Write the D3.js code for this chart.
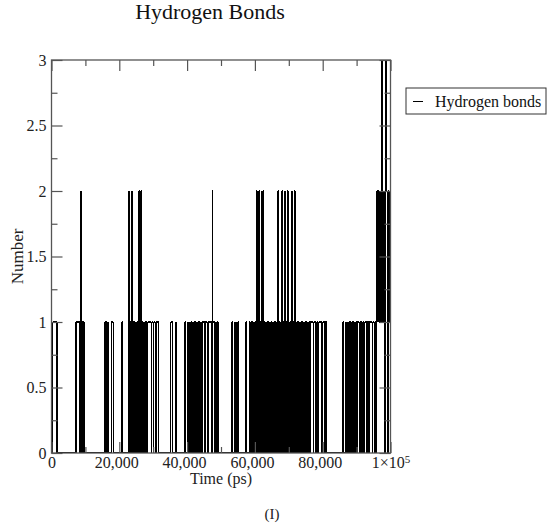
<!DOCTYPE html>
<html><head><meta charset="utf-8">
<script src="https://cdn.jsdelivr.net/npm/d3@7"></script>
<style>body{margin:0;background:#fff}</style>
</head><body>
<svg id="c" width="550" height="527"></svg>
<script>
const chartTitle = "Hydrogen Bonds";
const seriesName = "Hydrogen bonds";
const xAxisTitle = "Time (ps)";
const yAxisTitle = "Number";
const caption = "(I)";
const xTickValues = [0, 20000, 40000, 60000, 80000, 100000];
const xTickLabels = ["0", "20,000", "40,000", "60,000", "80,000", "1×10^5"];
const xMinorTicks = [10000, 30000, 50000, 70000, 90000];
const yTickValues = [0, 0.5, 1, 1.5, 2, 2.5, 3];
const yTickLabels = ["0", "0.5", "1", "1.5", "2", "2.5", "3"];
const yMinorTicks = [0.25, 0.75, 1.25, 1.75, 2.25, 2.75];
const sampleStep = 200;      // ps between samples
const chunkSpan = 10000;     // ps per chunk
// number of hydrogen bonds, one digit per 200 ps sample, one string per 10,000 ps
const hbChunks = [
  "10111111" + "0000000000" + "0000000000" + "00000000" + "111111" + "020" + "111" + "00",
  "0000000000" + "0000000000" + "000000000" + "101010" + "000" + "111" + "000000000",
  "0000" + "10" + "0000000" + "1" + "20102" + "0101010101" + "20120" + "101010101" + "1111011",
  "011011110" + "0000000000" + "0000000" + "111000010" + "000000000000" + "100",
  "0100" + "1010101010101010101" + "111011101111102111010110000",
  "0000000000" + "000000" + "10001001010" + "000000000" + "010" + "000" + "10101010",
  "1020102010" + "2020101010" + "1010101010" + "1010201010" + "2010201020",
  "1010201020" + "1010101010" + "1010101010" + "10" + "111101110110111110",
  "1110110" + "0000000000" + "0000000000" + "000" + "1000100" + "1010101010101",
  "0111011101" + "1011101101" + "1110110101" + "2121212321" + "2103210212"
];

const data = [];
hbChunks.forEach((s, c) => {
  for (let j = 0; j < s.length; j++) data.push({t: c * chunkSpan + j * sampleStep, v: +s[j]});
});

const FONT = "'Liberation Serif','Times New Roman',serif";
const svg = d3.select("#c");
const L = 51.5, R = 390.5, T = 60, B = 453;
const x = d3.scaleLinear().domain([0, 100000]).range([L, R]);
const y = d3.scaleLinear().domain([0, 3]).range([B, T]);

svg.append("defs").append("clipPath").attr("id", "clip")
  .append("rect").attr("x", L).attr("y", T - 1).attr("width", R - L).attr("height", B - T + 1);

// data line: step trace built from independent, consistently oriented segments
const p = d3.path();
for (let i = 1; i < data.length; i++) {
  const a = data[i - 1], b = data[i];
  p.moveTo(x(a.t), y(a.v)); p.lineTo(x(b.t), y(a.v));           // horizontal hold
  if (a.v !== b.v) {
    const lo = Math.min(a.v, b.v), hi = Math.max(a.v, b.v);
    p.moveTo(x(b.t), y(lo)); p.lineTo(x(b.t), y(hi));           // vertical jump
  }
}
svg.append("path")
  .attr("clip-path", "url(#clip)")
  .attr("fill", "none").attr("stroke", "#000").attr("stroke-width", 1.2)
  .attr("stroke-linecap", "butt")
  .attr("shape-rendering", "crispEdges")
  .attr("d", p.toString());

const axisColor = "#555";
function styleAxis(g) {
  g.select(".domain").remove();
  g.selectAll(".tick line").attr("stroke", axisColor).attr("stroke-width", 1.2);
  g.selectAll("text").attr("font-family", FONT).attr("font-size", 16).attr("fill", "#222");
}
const majLen = 11, minLen = 6;

// bottom
const gb = svg.append("g").attr("transform", `translate(0,${B})`)
  .call(d3.axisBottom(x).tickValues(xTickValues).tickSize(-majLen).tickPadding(4)
    .tickFormat((d, i) => xTickLabels[i]));
styleAxis(gb);
gb.selectAll(".tick text").each(function(d, i) {
  const lab = xTickLabels[i];
  const t = d3.select(this);
  if (i > 0 && i < xTickLabels.length - 1) t.attr("dx", -3);
  if (lab.includes("^")) {
    const [base, exp] = lab.split("^");
    t.text(null);
    t.append("tspan").text(base);
    t.append("tspan").attr("dy", "-0.45em").attr("font-size", 11).text(exp);
  }
});
svg.append("g").attr("transform", `translate(0,${B})`)
  .call(d3.axisBottom(x).tickValues(xMinorTicks).tickSize(-minLen).tickFormat(""))
  .call(styleAxis);
// top
svg.append("g").attr("transform", `translate(0,${T})`)
  .call(d3.axisTop(x).tickValues(xTickValues).tickSize(-majLen).tickFormat("")).call(styleAxis);
svg.append("g").attr("transform", `translate(0,${T})`)
  .call(d3.axisTop(x).tickValues(xMinorTicks).tickSize(-minLen).tickFormat("")).call(styleAxis);
// left
svg.append("g").attr("transform", `translate(${L},0)`)
  .call(d3.axisLeft(y).tickValues(yTickValues).tickSize(-majLen).tickPadding(5)
    .tickFormat((d, i) => yTickLabels[i])).call(styleAxis);
svg.append("g").attr("transform", `translate(${L},0)`)
  .call(d3.axisLeft(y).tickValues(yMinorTicks).tickSize(-minLen).tickFormat("")).call(styleAxis);
// right
svg.append("g").attr("transform", `translate(${R},0)`)
  .call(d3.axisRight(y).tickValues(yTickValues).tickSize(-majLen).tickFormat("")).call(styleAxis);
svg.append("g").attr("transform", `translate(${R},0)`)
  .call(d3.axisRight(y).tickValues(yMinorTicks).tickSize(-minLen).tickFormat("")).call(styleAxis);

// frame
svg.append("rect").attr("x", L).attr("y", T).attr("width", R - L).attr("height", B - T)
  .attr("fill", "none").attr("stroke", axisColor).attr("stroke-width", 1.3);

// title
svg.append("text").attr("x", 210).attr("y", 19).attr("text-anchor", "middle")
  .attr("font-family", FONT).attr("font-size", 22).attr("fill", "#111").text(chartTitle);
// axis titles
svg.append("text").attr("x", (L + R) / 2).attr("y", 484).attr("text-anchor", "middle")
  .attr("font-family", FONT).attr("font-size", 16).attr("fill", "#222").text(xAxisTitle);
svg.append("text").attr("transform", `translate(23,${(T + B) / 2}) rotate(-90)`)
  .attr("text-anchor", "middle")
  .attr("font-family", FONT).attr("font-size", 17).attr("fill", "#222").text(yAxisTitle);
// caption
svg.append("text").attr("x", 272).attr("y", 519).attr("text-anchor", "middle")
  .attr("font-family", FONT).attr("font-size", 15).attr("fill", "#222").text(caption);

// legend
const lg = svg.append("g");
lg.append("rect").attr("x", 406).attr("y", 88).attr("width", 140).attr("height", 26)
  .attr("fill", "#fff").attr("stroke", "#333").attr("stroke-width", 1);
lg.append("line").attr("x1", 413).attr("x2", 423).attr("y1", 101.5).attr("y2", 101.5)
  .attr("stroke", "#000").attr("stroke-width", 1);
lg.append("text").attr("x", 435).attr("y", 106.5)
  .attr("font-family", FONT).attr("font-size", 16).attr("fill", "#111").text(seriesName);
</script>
</body></html>
